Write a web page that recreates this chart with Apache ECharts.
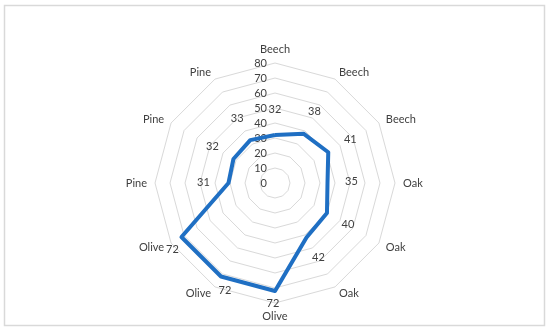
<!DOCTYPE html>
<html>
<head>
<meta charset="utf-8">
<script src="https://cdn.jsdelivr.net/npm/echarts@6/dist/echarts.min.js"></script>
<style>html,body{margin:0;padding:0;background:#fff;}#chart{width:550px;height:332px;}</style>
</head>
<body>
<div id="chart"></div>
<script>
// Clockwise from the top, as in the picture
const categories = ['Beech','Beech','Beech','Oak','Oak','Oak','Olive','Olive','Olive','Pine','Pine','Pine'];
const values = [32, 38, 41, 35, 40, 42, 72, 72, 72, 31, 32, 33];
const axisMax = 80;
const tickStep = 10;

// label offsets (styling only), clockwise order
const labelOffsets = [[0,-26],[11,-22],[22,-13],[24,-2],[21,11],[12,20],[-2,12],[4,14],[-9,12],[-25,-1],[-21,-13],[-13,-22]];

// ECharts radar goes counter-clockwise: reorder so the picture reads clockwise
const n = categories.length;
const order = [];
for (let k = 0; k < n; k++) order.push((n - k) % n);
const cats = order.map(i => categories[i]);
const vals = order.map(i => values[i]);
const offs = order.map(i => labelOffsets[i]);

const chart = echarts.init(document.getElementById('chart'));
const font = 'Lato, "Open Sans", "Liberation Sans", sans-serif';
chart.setOption({
  animation: false,
  backgroundColor: '#fff',
  graphic: [{
    type: 'rect', shape: {x: 4.5, y: 5.5, width: 540, height: 320},
    style: {fill: null, stroke: '#d9d9d9', lineWidth: 1.5}
  }],
  radar: {
    center: [275, 183],
    radius: 120,
    startAngle: 90,
    splitNumber: axisMax / tickStep,
    shape: 'polygon',
    nameGap: 8,
    axisName: {color: '#404040', fontSize: 11, fontFamily: font},
    splitLine: {lineStyle: {color: '#d9d9d9', width: 1}},
    splitArea: {show: false},
    axisLine: {show: false},
    axisTick: {show: false},
    axisLabel: {show: false},
    indicator: cats.map((c, k) => {
      const o = {name: c, min: 0, max: axisMax};
      if (k === 0) o.axisLabel = {show: true, color: '#404040', fontSize: 11, fontFamily: font, margin: 8, showMinLabel: true, showMaxLabel: true};
      return o;
    })
  },
  series: [{
    type: 'radar',
    symbol: 'none',
    lineStyle: {color: '#1f6fc3', width: 4},
    data: [{value: vals}]
  }, {
    type: 'radar',
    symbol: 'circle',
    symbolSize: 2,
    lineStyle: {width: 0, color: 'transparent'},
    itemStyle: {color: 'transparent', borderWidth: 0},
    z: 5,
    data: vals.map((v, k) => ({
      value: vals.map((w, j) => j === k ? w : '-'),
      label: {
        show: true, position: 'inside', offset: offs[k],
        color: '#404040', fontSize: 11, fontFamily: font,
        formatter: p => (typeof p.value === 'number') ? String(p.value) : ''
      }
    }))
  }]
});
</script>
</body>
</html>
